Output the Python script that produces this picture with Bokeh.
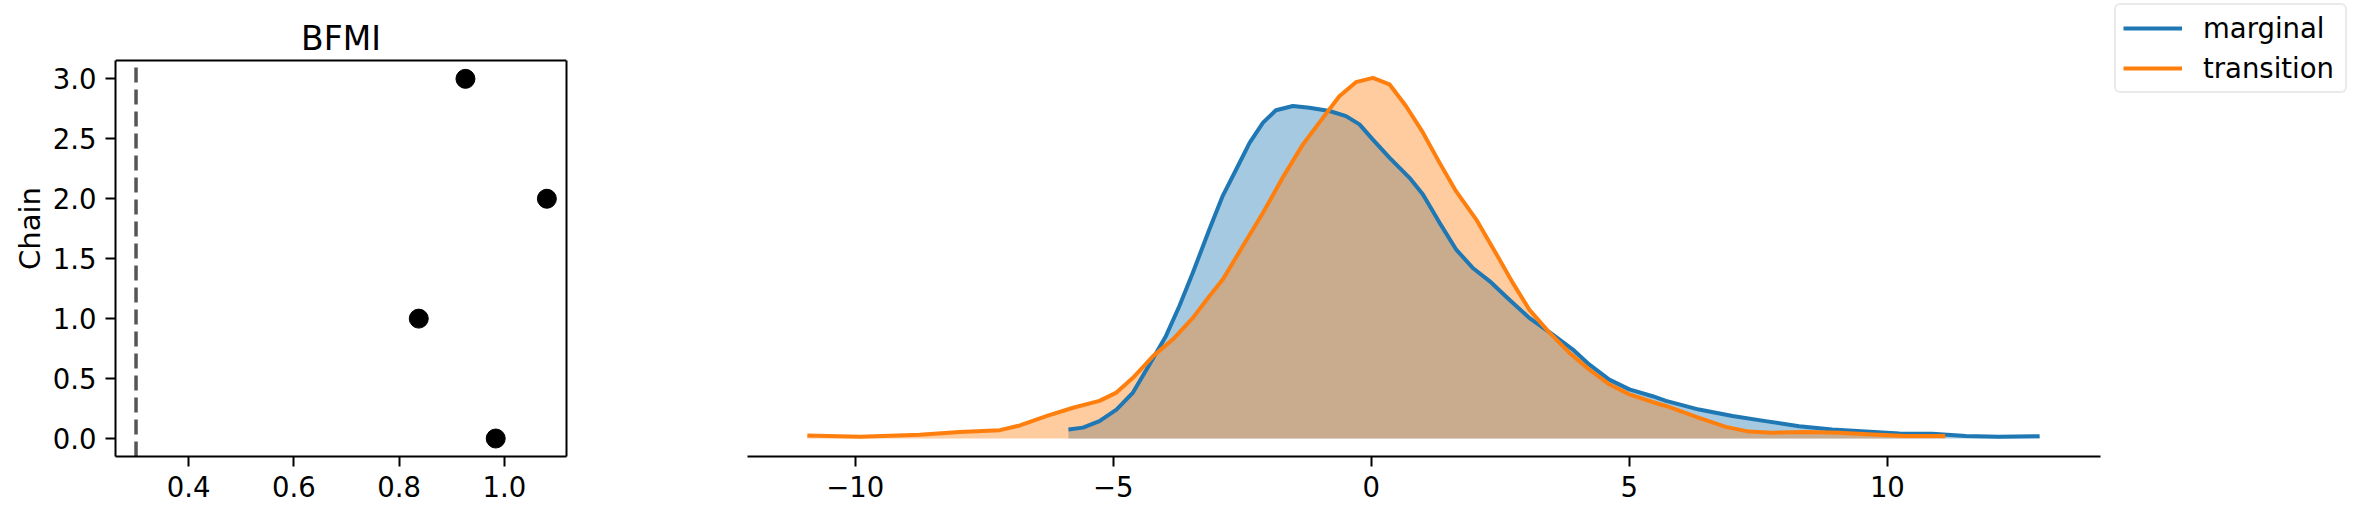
from bokeh.plotting import figure
from bokeh.layouts import row
from bokeh.models import (Range1d, FixedTicker, PrintfTickFormatter, Span,
                          Legend, LegendItem, LinearAxis, Label)
from bokeh.embed import file_html
from bokeh.resources import INLINE

# ---------------- data ----------------
chains = [0, 1, 2, 3]
bfmi = [0.9835, 0.8373, 1.0807, 0.926]
bfmi_threshold = 0.3

marginal_x = [-5.87, -5.59, -5.27, -4.94, -4.62, -4.30, -3.98, -3.72, -3.46, -3.14,
              -2.88, -2.62, -2.36, -2.10, -1.85, -1.52, -1.20, -0.81, -0.49, -0.23,
              0.03, 0.35, 0.74, 1.00, 1.32, 1.64, 1.96, 2.29, 2.67, 3.06,
              3.51, 3.90, 4.22, 4.61, 5.00, 5.45, 5.71, 6.35, 7.00, 7.64,
              8.29, 8.93, 9.58, 10.23, 10.87, 11.52, 12.16, 12.95]
marginal_y = [0.025, 0.030, 0.048, 0.080, 0.127, 0.205, 0.284, 0.367, 0.459, 0.579,
              0.672, 0.745, 0.819, 0.875, 0.909, 0.921, 0.916, 0.907, 0.893, 0.870,
              0.828, 0.778, 0.722, 0.676, 0.598, 0.524, 0.473, 0.436, 0.385, 0.334,
              0.288, 0.247, 0.205, 0.163, 0.136, 0.117, 0.104, 0.080, 0.062, 0.048,
              0.034, 0.025, 0.019, 0.014, 0.013, 0.007, 0.005, 0.006]

transition_x = [-10.93, -9.91, -8.75, -7.98, -7.20, -6.81, -6.30, -5.78, -5.27, -4.94,
                -4.62, -4.23, -3.85, -3.46, -3.14, -2.88, -2.49, -2.10, -1.72, -1.33,
                -0.94, -0.62, -0.30, 0.03, 0.35, 0.67, 1.00, 1.32, 1.64, 2.03,
                2.41, 2.74, 3.06, 3.45, 3.84, 4.22, 4.61, 5.00, 5.45, 5.71,
                6.35, 6.87, 7.32, 7.77, 8.42, 9.06, 9.71, 10.35, 11.12]
transition_y = [0.008, 0.005, 0.010, 0.018, 0.023, 0.036, 0.062, 0.085, 0.104, 0.127,
                0.168, 0.228, 0.274, 0.334, 0.394, 0.440, 0.533, 0.625, 0.722, 0.814,
                0.888, 0.948, 0.987, 0.999, 0.981, 0.921, 0.847, 0.764, 0.685, 0.607,
                0.514, 0.431, 0.357, 0.293, 0.237, 0.191, 0.150, 0.122, 0.101, 0.090,
                0.057, 0.032, 0.019, 0.016, 0.018, 0.016, 0.011, 0.007, 0.007]

bfmi_xticks = [0.4, 0.6, 0.8, 1.0]
bfmi_yticks = [0.0, 0.5, 1.0, 1.5, 2.0, 2.5, 3.0]
energy_xticks = [-10, -5, 0, 5, 10]

FONT = "DejaVu Sans"
TICK = "27.5px"
BLUE = "#1f77b4"
ORANGE = "#ff7f0e"

# axes box of the BFMI panel (data units)
BX0, BX1 = 0.261, 1.118
BY0, BY1 = -0.15, 3.153


def style_axis(ax):
    ax.major_label_text_font = FONT
    ax.major_label_text_font_size = TICK
    ax.major_label_text_color = "black"
    ax.axis_label_text_font = FONT
    ax.axis_label_text_font_size = "29px"
    ax.axis_label_text_font_style = "normal"
    ax.axis_label_text_color = "black"
    ax.axis_line_color = "black"
    ax.axis_line_width = 2
    ax.major_tick_line_color = "black"
    ax.major_tick_line_width = 2
    ax.major_tick_out = 10
    ax.major_tick_in = 0
    ax.minor_tick_line_color = None
    ax.major_label_standoff = 9


# ---------------- left: BFMI ----------------
# frame reaches the top so both panels share the same frame top;
# the box is drawn with bounded axes + a span.
p1 = figure(width=600, height=515, output_backend="svg", toolbar_location=None,
            x_range=Range1d(BX0, BX1), y_range=Range1d(BY0, 3.6534),
            min_border_left=115, min_border_right=34, min_border_top=0,
            min_border_bottom=59)
try:
    p1.title = None
except Exception:
    p1.title.visible = False
p1.grid.visible = False
p1.outline_line_color = None
p1.yaxis.axis_label = "Chain"
p1.xaxis.ticker = FixedTicker(ticks=bfmi_xticks)
p1.yaxis.ticker = FixedTicker(ticks=bfmi_yticks)
p1.xaxis[0].formatter = PrintfTickFormatter(format="%.1f")
p1.yaxis[0].formatter = PrintfTickFormatter(format="%.1f")
style_axis(p1.xaxis[0])
style_axis(p1.yaxis[0])
p1.yaxis[0].bounds = (BY0, BY1)
p1.yaxis.axis_label_standoff = 3

right_spine = LinearAxis(ticker=FixedTicker(ticks=[]), bounds=(BY0, BY1))
style_axis(right_spine)
right_spine.major_tick_line_color = None
p1.add_layout(right_spine, "right")
p1.add_layout(Span(location=BY1, dimension="width", line_color="black", line_width=2))

p1.add_layout(Label(x=(BX0 + BX1) / 2, y=BY1, y_offset=22, text="BFMI",
                    text_align="center", text_baseline="middle",
                    text_font=FONT, text_font_size="33px", text_color="black"))

p1.segment(x0=[bfmi_threshold], y0=[BY0], x1=[bfmi_threshold], y1=[BY1],
           line_color="#555555", line_dash="15 7", line_width=3.5)
p1.scatter(bfmi, chains, size=19, color="black")

# ---------------- right: energy ----------------
p2 = figure(width=1750, height=515, output_backend="svg", toolbar_location=None,
            x_range=Range1d(-12.09, 18.975), y_range=Range1d(-0.05, 1.2132),
            y_axis_location=None,
            min_border_left=147, min_border_right=0, min_border_top=0,
            min_border_bottom=59)
try:
    p2.title = None
except Exception:
    p2.title.visible = False
p2.grid.visible = False
p2.outline_line_color = None
ax = p2.xaxis[0]
ax.bounds = (-12.09, 14.13)
ax.ticker = FixedTicker(ticks=energy_xticks)
ax.major_label_overrides = {-10: "\u221210", -5: "\u22125", 0: "0", 5: "5", 10: "10"}
style_axis(ax)

# fills first (below), then lines on top, as in the reference
p2.varea(x=marginal_x, y1=0, y2=marginal_y, fill_color=BLUE, fill_alpha=0.4)
p2.varea(x=transition_x, y1=0, y2=transition_y, fill_color=ORANGE, fill_alpha=0.4)
r_m = p2.line(marginal_x, marginal_y, line_color=BLUE, line_width=4, line_join="round")
r_t = p2.line(transition_x, transition_y, line_color=ORANGE, line_width=4, line_join="round")

legend = Legend(items=[LegendItem(label="marginal", renderers=[r_m]),
                       LegendItem(label="transition", renderers=[r_t])],
                location=(1367, 363))
legend.label_text_font = FONT
legend.label_text_font_size = "27.5px"
legend.label_text_color = "black"
legend.glyph_width = 59
legend.glyph_height = 28
legend.label_height = 28
legend.label_width = 135
legend.label_standoff = 21
legend.spacing = 8
legend.padding = 7
legend.margin = 0
legend.border_line_color = "#d6d6d6"
legend.border_line_width = 2
legend.background_fill_color = "white"
legend.background_fill_alpha = 0.8
try:
    legend.border_radius = 6
except Exception:
    pass
p2.add_layout(legend)

layout = row(p1, p2)
open("out.html", "w").write(file_html(layout, INLINE))
